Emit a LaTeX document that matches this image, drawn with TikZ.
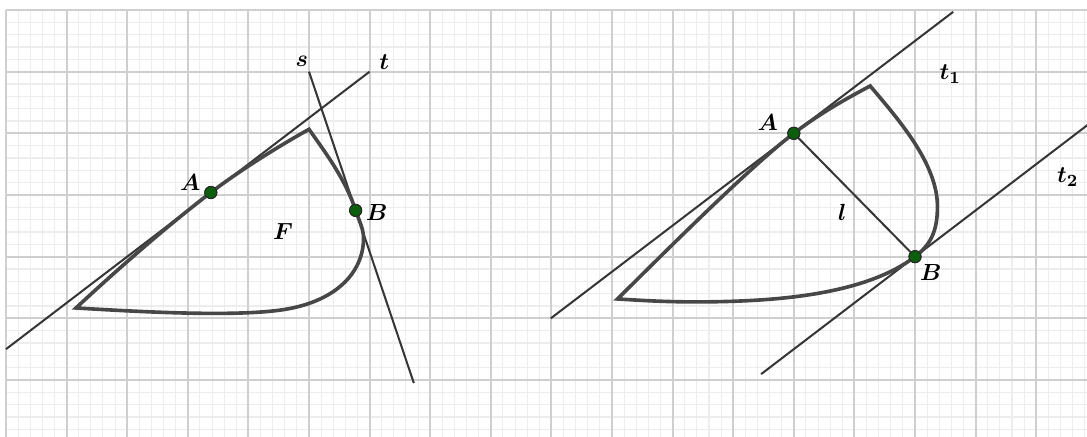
\documentclass[tikz,border=0pt]{standalone}
\usepackage{amsmath,amssymb}
\usepackage{xcolor}
\usepackage{tikz}
\usetikzlibrary{positioning}

\definecolor{ptgreen}{HTML}{0B5E0B}
\definecolor{linegray}{HTML}{363636}

\begin{document}
\begin{tikzpicture}[x=1cm, y=1.0176cm,
    fine/.style={draw=black!7, line width=0.5pt},
    coarse/.style={draw=black!19, line width=0.9pt},
    tang/.style={draw=linegray, line width=0.95pt},
    curv/.style={draw=black!72, line width=1.7pt, line join=miter},
    pnt/.style={circle, draw=black!85, fill=ptgreen, line width=0.45pt, inner sep=0pt, minimum size=0.2cm},
    lab/.style={font=\fontsize{11}{13}\selectfont, inner sep=1pt}
  ]
    \useasboundingbox (-0.099,0.076) rectangle (17.838,7.162);
    \draw[fine, step=0.2] (0,0) grid (17.9,7);
    \draw[coarse, step=1] (0,0) grid (17.9,7);

    % left figure
    \coordinate (tS) at (0,1.5);
    \coordinate (tE) at (6,6);
    \coordinate (sS) at (5,6);
    \coordinate (sE) at (6.73,0.95);
    \coordinate (L1) at (1.155,2.168);
    \coordinate (T1) at (5.0,5.065);
    \node[pnt] (A) at (3.38,4.04) {};
    \node[pnt] (B) at (5.77,3.75) {};

    \draw[tang] (tS) -- (tE);
    \draw[tang] (sS) -- (sE);
    \draw[curv] (L1) .. controls (1.9,2.85) and (2.7,3.53) .. (A.center)
      .. controls (3.88,4.415) and (4.55,4.82) .. (T1)
      .. controls (5.3,4.65) and (5.6,4.25) .. (B.center)
      .. controls (5.83,3.57) and (5.9,3.45) .. (5.9,3.3)
      .. controls (5.9,2.75) and (5.45,2.25) .. (4.5,2.13)
      .. controls (3.7,2.03) and (2.3,2.1) .. (L1) -- cycle;
    \node[pnt] at (A) {};
    \node[pnt] at (B) {};

    \node[lab] (sLab) at (4.88,6.16) {$\boldsymbol{s}$};
    \node[lab] (tLab) at (6.24,6.16) {$\boldsymbol{t}$};
    \node[lab] (ALab) at (3.04,4.21) {$\boldsymbol{A}$};
    \node[lab] (BLab) at (6.12,3.72) {$\boldsymbol{B}$};
    \node[lab] (FLab) at (4.57,3.40) {$\boldsymbol{F}$};

    % right figure
    \coordinate (uS) at (8.99,2.0);
    \coordinate (uE) at (15.63,6.97);
    \coordinate (vS) at (12.46,1.095);
    \coordinate (vE) at (17.9,5.175);
    \coordinate (L2) at (10.09,2.314);
    \coordinate (T2) at (14.26,5.768);
    \node[pnt] (A2) at (13,5) {};
    \node[pnt] (B2) at (15,3) {};

    \draw[tang] (uS) -- (uE);
    \draw[tang] (vS) -- (vE);
    \draw[tang] (A2) -- (B2);
    \draw[curv] (L2) .. controls (11.0,3.2) and (12.3,4.475) .. (A2.center)
      .. controls (13.45,5.3375) and (13.9,5.58) .. (T2)
      .. controls (14.75,5.2) and (15.37,4.5) .. (15.37,3.81)
      .. controls (15.37,3.4) and (15.25,3.19) .. (B2.center)
      .. controls (14.2,2.4) and (12.8,2.29) .. (11.75,2.27)
      .. controls (11.0,2.255) and (10.5,2.29) .. (L2) -- cycle;
    \node[pnt] at (A2) {};
    \node[pnt] at (B2) {};

    \node[lab] (ALab2) at (12.57,5.17) {$\boldsymbol{A}$};
    \node[lab] (BLab2) at (15.26,2.74) {$\boldsymbol{B}$};
    \node[lab] (lLab) at (13.8,3.71) {$\boldsymbol{l}$};
    \node[lab] (uLab) at (15.58,5.96) {$\boldsymbol{t_1}$};
    \node[lab] (vLab) at (17.52,4.29) {$\boldsymbol{t_2}$};
\end{tikzpicture}
\end{document}
